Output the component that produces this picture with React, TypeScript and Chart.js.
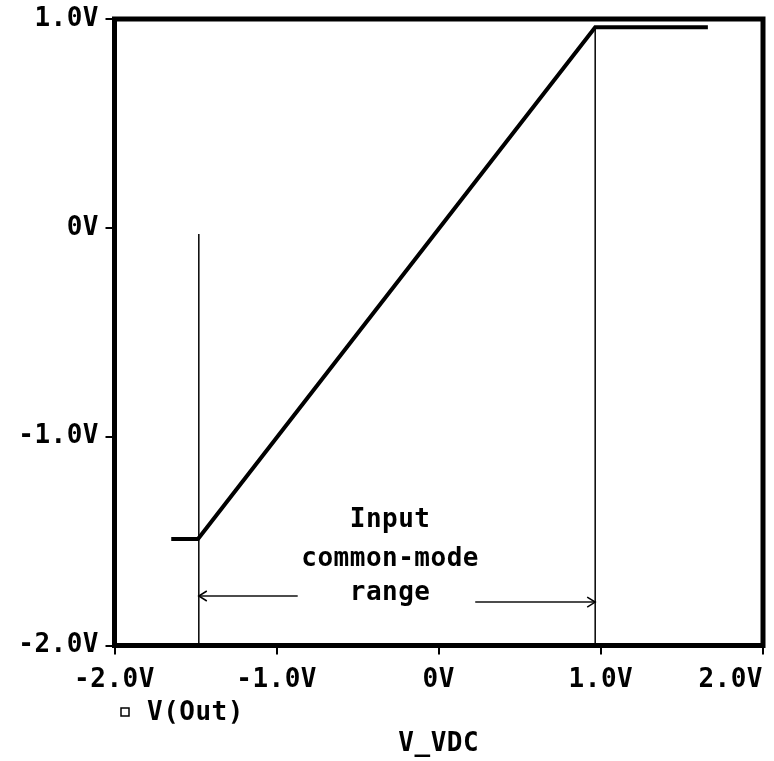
import React, { useEffect, useRef } from 'react';
import { Chart, registerables } from 'chart.js';

Chart.register(...registerables);

// ---- data ----
const xTicks = [-2, -1, 0, 1, 2];
const yTicks = [-2, -1, 0, 1];
const seriesLabel = 'V(Out)';
const xTitle = 'V_VDC';

const traceX = [-1.65, -1.485, 0.965, 1.66];
const traceY = [-1.49, -1.49, 0.96, 0.96];

const leftMarkerX = [-1.48, -1.48];
const leftMarkerY = [-0.03, -2];
const rightMarkerX = [0.965, 0.965];
const rightMarkerY = [0.96, -2];

const leftArrowX = [-0.87, -1.48];
const leftArrowY = [-1.763, -1.763];
const rightArrowX = [0.225, 0.965];
const rightArrowY = [-1.792, -1.792];

const noteLines = ['Input', 'common-mode', 'range'];
const noteX = -0.3;
const noteY = [-1.433, -1.62, -1.783];

const FONT_FAMILY = '"DejaVu Sans Mono", "Liberation Mono", monospace';
const FONT_SIZE = 26;

const pts = (xs: number[], ys: number[]) => xs.map((v, i) => ({ x: v, y: ys[i] }));

const fmt = (v: number) => (v === 0 ? '0V' : v.toFixed(1) + 'V');

const decor = {
  id: 'decor',
  beforeDraw(chart: any) {
    (chart.ctx as any).letterSpacing = '0.5px';
  },
  afterDatasetsDraw(chart: any) {
    const { ctx, chartArea: a, scales } = chart;
    const x = scales.x;
    const y = scales.y;
    ctx.save();
    // frame
    ctx.lineWidth = 5;
    ctx.strokeStyle = '#000';
    ctx.strokeRect(a.left, a.top, a.right - a.left, a.bottom - a.top);

    // arrow heads
    ctx.lineWidth = 1.5;
    const head = (tx: number, ty: number, dir: number) => {
      const px = x.getPixelForValue(tx);
      const py = y.getPixelForValue(ty);
      ctx.beginPath();
      ctx.moveTo(px + dir * 8, py - 5);
      ctx.lineTo(px, py);
      ctx.lineTo(px + dir * 8, py + 5);
      ctx.stroke();
    };
    head(leftArrowX[1], leftArrowY[1], 1);
    head(rightArrowX[1], rightArrowY[1], -1);

    // note text
    ctx.fillStyle = '#000';
    ctx.font = `bold ${FONT_SIZE}px ${FONT_FAMILY}`;
    ctx.textAlign = 'center';
    ctx.textBaseline = 'alphabetic';
    noteLines.forEach((t, i) => {
      ctx.fillText(t, x.getPixelForValue(noteX), y.getPixelForValue(noteY[i]));
    });
    ctx.restore();
  },
  afterDraw(chart: any) {
    const { ctx } = chart;
    ctx.save();
    ctx.strokeStyle = '#000';
    ctx.lineWidth = 1.5;
    ctx.strokeRect(121, 708, 8, 8);
    ctx.fillStyle = '#000';
    ctx.font = `bold ${FONT_SIZE}px ${FONT_FAMILY}`;
    ctx.textAlign = 'left';
    ctx.textBaseline = 'middle';
    ctx.fillText(chart.data.datasets[0].label, 147, 713);
    ctx.restore();
  },
};

export default function App() {
  const ref = useRef<HTMLCanvasElement>(null);

  useEffect(() => {
    const canvas = ref.current;
    if (!canvas) return;
    Chart.defaults.font.family = FONT_FAMILY;
    Chart.defaults.font.size = FONT_SIZE;
    Chart.defaults.font.weight = 'bold';
    Chart.defaults.color = '#000';

    const thin = { borderColor: '#111', borderWidth: 1.6, pointRadius: 0, showLine: true, fill: false, tension: 0 };

    const chart = new Chart(canvas, {
      type: 'scatter',
      data: {
        datasets: [
          { label: seriesLabel, data: pts(traceX, traceY), borderColor: '#000', borderWidth: 4, pointRadius: 0, showLine: true, fill: false, tension: 0 },
          { label: 'left', data: pts(leftMarkerX, leftMarkerY), ...thin },
          { label: 'right', data: pts(rightMarkerX, rightMarkerY), ...thin },
          { label: 'larrow', data: pts(leftArrowX, leftArrowY), ...thin },
          { label: 'rarrow', data: pts(rightArrowX, rightArrowY), ...thin },
        ],
      },
      options: {
        responsive: false,
        animation: false,
        layout: { padding: { left: 0, top: 19, right: 11, bottom: 0 } },
        plugins: { legend: { display: false }, tooltip: { enabled: false } },
        scales: {
          x: {
            type: 'linear',
            min: -2,
            max: 2,
            afterBuildTicks: (s: any) => {
              s.ticks = xTicks.map((v) => ({ value: v }));
            },
            afterFit: (s: any) => {
              s.height = 115.5;
              s.paddingLeft = 0;
              s.paddingRight = 0;
            },
            border: { display: false },
            grid: { drawOnChartArea: false, drawTicks: true, tickLength: 9, color: '#000', lineWidth: 2 },
            ticks: {
              padding: 10,
              maxRotation: 0,
              autoSkip: false,
              callback: (v: any) => (v === xTicks[xTicks.length - 1] ? fmt(v) + '    ' : fmt(v)),
            },
            title: { display: true, text: xTitle, padding: { top: 0, bottom: 1.5 } },
          },
          y: {
            type: 'linear',
            min: -2,
            max: 1,
            afterBuildTicks: (s: any) => {
              s.ticks = yTicks.map((v) => ({ value: v }));
            },
            afterFit: (s: any) => {
              s.width = 114.5;
              s.paddingTop = 0;
              s.paddingBottom = 0;
            },
            border: { display: false },
            grid: { drawOnChartArea: false, drawTicks: true, tickLength: 9, color: '#000', lineWidth: 2 },
            ticks: { padding: 6.5, callback: (v: any) => fmt(v) },
          },
        },
      },
      plugins: [decor],
    } as any);

    return () => chart.destroy();
  }, []);

  return (
    <div style={{ position: 'fixed', left: 0, top: 0, width: 774, height: 761, background: '#fff' }}>
      <canvas ref={ref} width={774} height={761} style={{ display: 'block', width: 774, height: 761 }} />
    </div>
  );
}
